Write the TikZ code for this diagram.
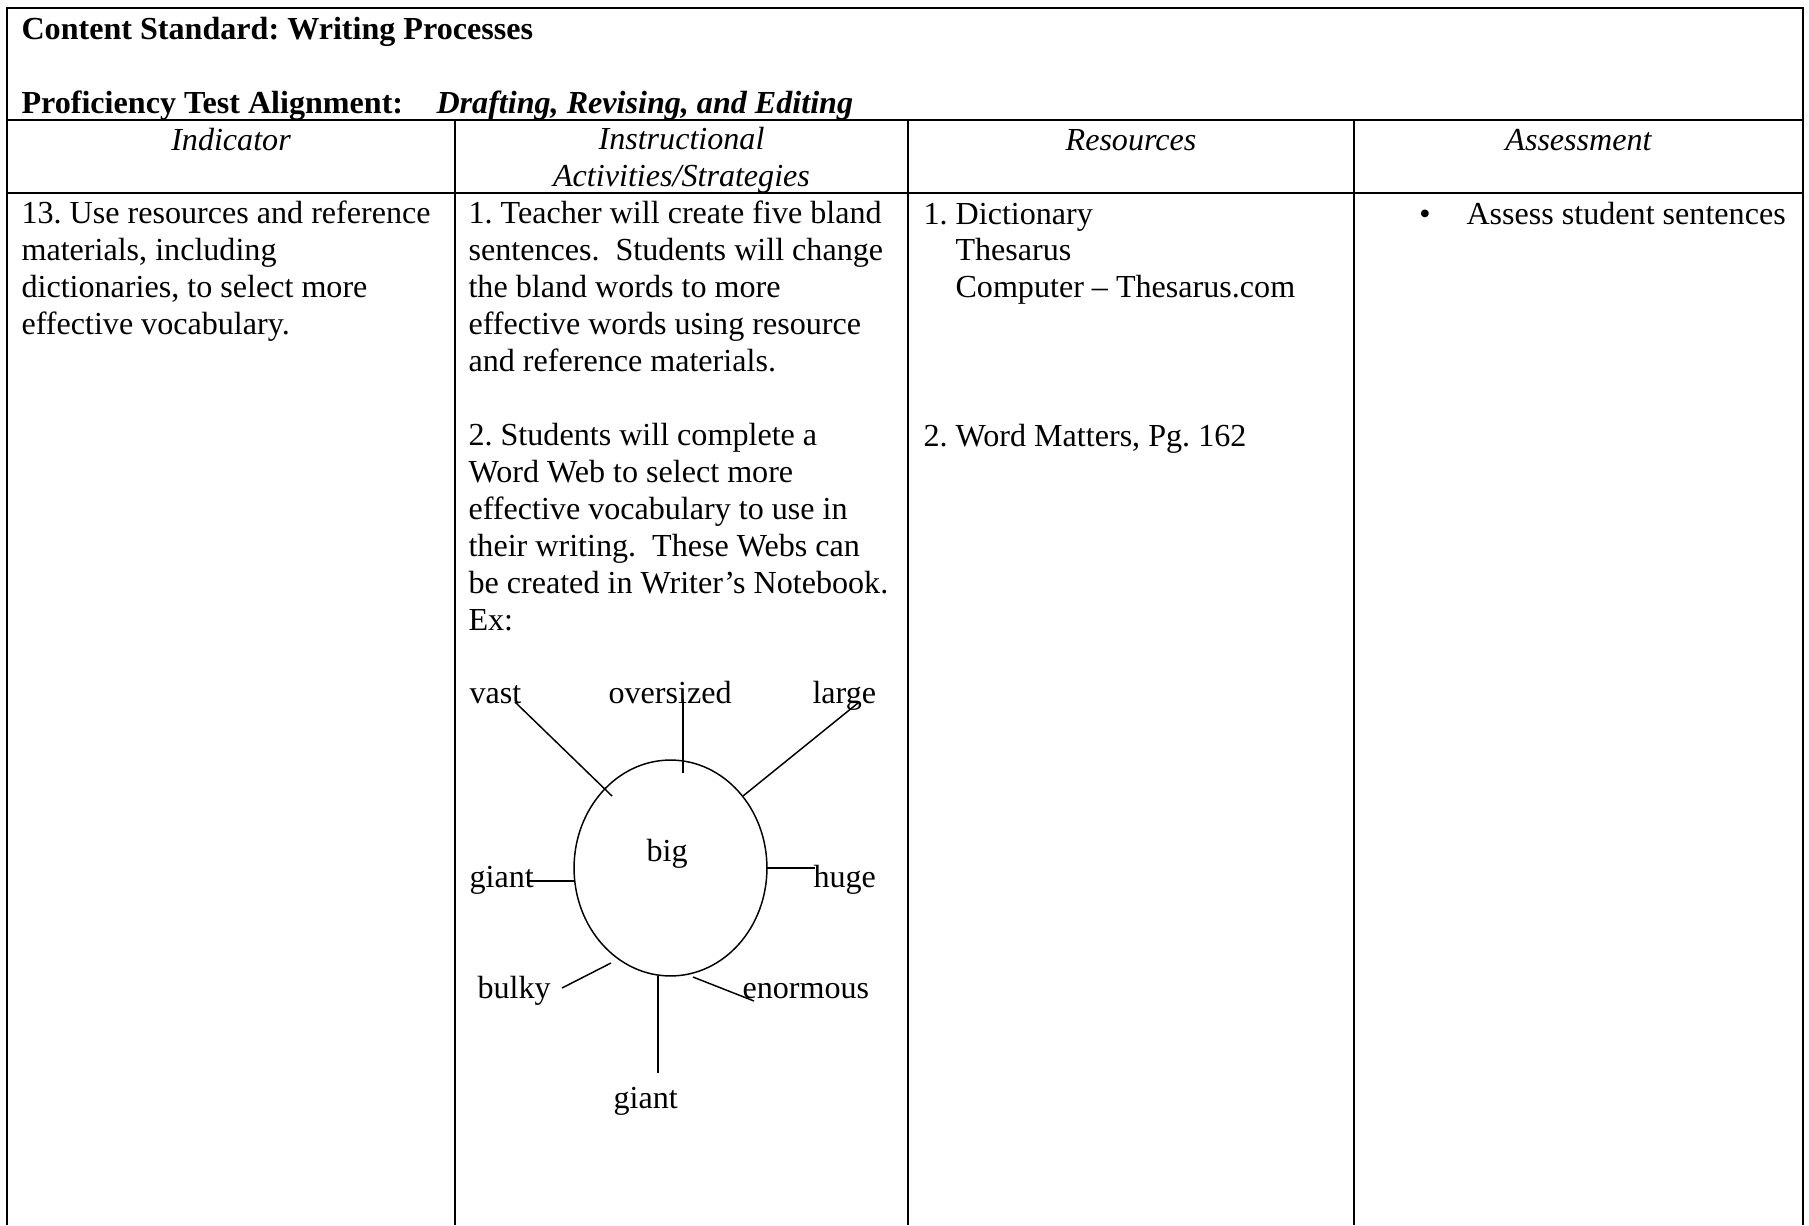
\documentclass[tikz,border=0pt]{standalone}
\usepackage{fontspec}
\setmainfont{Liberation Serif}
\usetikzlibrary{shapes.geometric}
\frenchspacing
\begin{document}
\begin{tikzpicture}[x=0.3738pt,y=-0.3738pt,
  rule/.style={line width=0.75pt},
  txt/.style={anchor=base west, inner sep=0pt, align=left, yshift=-0.75pt, font=\fontsize{12pt}{13.8pt}\selectfont},
  hdr/.style={anchor=base, inner sep=0pt, align=center, yshift=-0.75pt, font=\fontsize{12pt}{13.8pt}\selectfont\itshape},
  word/.style={anchor=base west, inner sep=0pt, yshift=-0.5pt, font=\fontsize{12pt}{13.8pt}\selectfont},
  spoke/.style={line width=0.55pt},
  webring/.style={draw, ellipse, line width=0.55pt, inner sep=0pt, minimum width=72.1pt, minimum height=80.7pt}]
\useasboundingbox (0,0) rectangle (1809,1225);
% table frame
\draw[rule] (7,1225) -- (7,8) -- (1803,8) -- (1803,1225);
\draw[rule] (7,120) -- (1803,120);
\draw[rule] (7,193) -- (1803,193);
\draw[rule] (455,120) -- (455,1225);
\draw[rule] (908,120) -- (908,1225);
\draw[rule] (1354,120) -- (1354,1225);
% title (anchors sit on the baseline of the last line of each text)
\node[txt, font=\fontsize{12pt}{13.8pt}\selectfont\bfseries] (title) at (21,37) {Content Standard: Writing Processes};
\node[txt, font=\fontsize{12pt}{13.8pt}\selectfont\bfseries] (align) at (21,111) {Proficiency Test Alignment:};
\node[txt, font=\fontsize{12pt}{13.8pt}\selectfont\bfseries\itshape] (alignval) at (436,111) {Drafting, Revising, and Editing};
% header row
\node[hdr] (hind) at (231,148) {Indicator};
\node[hdr] (hact) at (681.5,184.9) {Instructional\\Activities/Strategies};
\node[hdr] (hres) at (1131,148) {Resources};
\node[hdr] (hass) at (1578.5,148) {Assessment};
% column 1
\node[txt] (ind) at (21,332.7) {13. Use resources and reference\\materials, including\\dictionaries, to select more\\effective vocabulary.};
% column 2
\node[txt] (act1) at (468,369.6) {1. Teacher will create five bland\\sentences.\ \ Students will change\\the bland words to more\\effective words using resource\\and reference materials.};
\node[txt] (act2) at (468,628.5) {2. Students will complete a\\Word Web to select more\\effective vocabulary to use in\\their writing.\ \ These Webs can\\be created in Writer’s Notebook.\\Ex:};
% column 3
\node[txt] (res1) at (923,222) {1. Dictionary};
\node[txt] (res1b) at (955,295.8) {Thesarus\\Computer – Thesarus.com};
\node[txt] (res2) at (923,444) {2. Word Matters, Pg. 162};
% column 4
\node[anchor=base, inner sep=0pt, yshift=-0.75pt, font=\fontsize{12pt}{13.8pt}\selectfont] (bul) at (1425,222) {\textbullet};
\node[txt] (ass) at (1466,222) {Assess student sentences};
% word web
\node[webring] (web) at (670.5,868) {};
\node[word] (big) at (646,860) {big};
\node[word] (vast) at (469,702) {vast};
\node[word] (over) at (608,702) {oversized};
\node[word] (large) at (812,702) {large};
\node[word] (giantL) at (469,886) {giant};
\node[word] (huge) at (813,886) {huge};
\node[word] (bulky) at (477,997) {bulky};
\node[word] (enorm) at (742,997) {enormous};
\node[word] (giantB) at (613,1107) {giant};
\coordinate (vastA) at (515,702);  \coordinate (vastB) at (612,796);
\coordinate (overA) at (683,699);  \coordinate (overB) at (683,773);
\coordinate (largeA) at (858,703); \coordinate (largeB) at (743,796);
\coordinate (giLA) at (527,881);   \coordinate (giLB) at (575,881);
\coordinate (hugeA) at (766,868);  \coordinate (hugeB) at (815,868);
\coordinate (bulkA) at (562,988);  \coordinate (bulkB) at (611,963);
\coordinate (enA) at (693,977);    \coordinate (enB) at (754,1001);
\coordinate (giBA) at (658,976);   \coordinate (giBB) at (658,1073);
\draw[spoke] (vastA) -- (vastB);
\draw[spoke] (overA) -- (overB);
\draw[spoke] (largeA) -- (largeB);
\draw[spoke] (giLA) -- (giLB);
\draw[spoke] (hugeA) -- (hugeB);
\draw[spoke] (bulkA) -- (bulkB);
\draw[spoke] (enA) -- (enB);
\draw[spoke] (giBA) -- (giBB);
\end{tikzpicture}
\end{document}
